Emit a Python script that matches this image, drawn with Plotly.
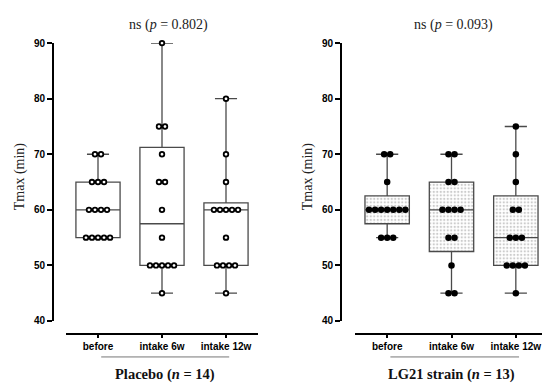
import numpy as np
import plotly.graph_objects as go
from collections import Counter

categories = ["before", "intake 6w", "intake 12w"]
placebo_before = [70, 70, 65, 65, 65, 60, 60, 60, 60, 55, 55, 55, 55, 55]
placebo_6w = [90, 75, 75, 70, 65, 65, 60, 55, 50, 50, 50, 50, 50, 45]
placebo_12w = [80, 70, 65, 60, 60, 60, 60, 60, 55, 50, 50, 50, 50, 45]
lg21_before = [70, 70, 65, 60, 60, 60, 60, 60, 60, 60, 55, 55, 55]
lg21_6w = [70, 70, 65, 65, 60, 60, 60, 60, 55, 55, 50, 45, 45]
lg21_12w = [75, 70, 65, 60, 60, 55, 55, 55, 50, 50, 50, 50, 45]
y_ticks = [40, 50, 60, 70, 80, 90]
titles = ["ns (<i>p</i> = 0.802)", "ns (<i>p</i> = 0.093)"]
group_labels = ["<b>Placebo (<i>n</i> = 14)</b>", "<b>LG21 strain (<i>n</i> = 13)</b>"]

W, H = 550, 387
BOXW = 0.69

def px_x(p):
    return p / W

def px_y(p):
    return (H - p) / H

def stats(groups):
    q1 = [float(np.percentile(g, 25, method="weibull")) for g in groups]
    med = [float(np.percentile(g, 50, method="weibull")) for g in groups]
    q3 = [float(np.percentile(g, 75, method="weibull")) for g in groups]
    lo = [min(g) for g in groups]
    hi = [max(g) for g in groups]
    return q1, med, q3, lo, hi

def swarm(groups, spacing):
    xs, ys = [], []
    for gi, g in enumerate(groups):
        cnt = Counter(g)
        for v, k in cnt.items():
            for i in range(k):
                xs.append(gi + (i - (k - 1) / 2) * spacing)
                ys.append(v)
    return xs, ys

fig = go.Figure()
panels = [
    ([placebo_before, placebo_6w, placebo_12w], "x", "y", False),
    ([lg21_before, lg21_6w, lg21_12w], "x2", "y2", True),
]
for groups, xa, ya, patterned in panels:
    q1, med, q3, lo, hi = stats(groups)
    pos = list(range(len(categories)))
    if patterned:
        fig.add_trace(go.Bar(
            x=pos, y=[b - a for a, b in zip(q1, q3)], base=q1, width=BOXW,
            marker=dict(color="white", line=dict(width=0),
                        pattern=dict(shape=".", size=3.5, solidity=0.35,
                                     fgcolor="#9a9a9a", bgcolor="white")),
            xaxis=xa, yaxis=ya, showlegend=False, hoverinfo="skip"))
    fig.add_trace(go.Box(
        x=pos, q1=q1, median=med, q3=q3, lowerfence=lo, upperfence=hi,
        width=BOXW, whiskerwidth=0.5, boxpoints=False,
        fillcolor="rgba(0,0,0,0)", line=dict(color="#4a4a4a", width=1.3),
        xaxis=xa, yaxis=ya, showlegend=False))
    if patterned:
        xs, ys = swarm(groups, 0.094)
        mk = dict(symbol="circle", size=6.5, color="black", line=dict(width=0))
    else:
        xs, ys = swarm(groups, 0.094)
        mk = dict(symbol="circle", size=4.6, color="white", line=dict(color="black", width=1.8))
    fig.add_trace(go.Scatter(x=xs, y=ys, mode="markers", marker=mk,
                             xaxis=xa, yaxis=ya, showlegend=False, cliponaxis=False))

tickfont = dict(family="Liberation Sans", size=10, color="black", weight="bold")
ydom = [px_y(317), px_y(31)]
common_x = dict(range=[-0.5, 2.5], tickvals=[0, 1, 2], ticktext=categories,
                showline=True, linecolor="black", linewidth=2, ticks="outside",
                ticklen=3, tickwidth=1.5, tickcolor="black", showgrid=False,
                zeroline=False, tickfont=tickfont, anchor="free",
                position=px_y(330))
common_y = dict(range=[40, 90], tickvals=y_ticks, showline=True, linecolor="black",
                linewidth=2, ticks="outside", ticklen=5, tickwidth=1.5,
                tickcolor="black", showgrid=False, zeroline=False,
                tickfont=tickfont, domain=ydom, anchor="free")

fig.update_layout(
    width=W, height=H, margin=dict(l=0, r=0, t=0, b=0),
    paper_bgcolor="white", plot_bgcolor="white",
    xaxis=dict(domain=[px_x(58), px_x(250)], **common_x),
    xaxis2=dict(domain=[px_x(347), px_x(540)], **common_x),
    yaxis=dict(position=px_x(45), **common_y),
    yaxis2=dict(position=px_x(333), **common_y),
    barmode="overlay",
)

serif = "Liberation Serif"
ann = []
for cx, t in zip([160, 445], titles):
    ann.append(dict(x=px_x(cx), y=px_y(12), xref="paper", yref="paper", text=t,
                    showarrow=False, font=dict(family=serif, size=14, color="#222"),
                    xanchor="center", yanchor="middle"))
for cx, t in zip([157, 443], group_labels):
    ann.append(dict(x=px_x(cx), y=px_y(372), xref="paper", yref="paper", text=t,
                    showarrow=False, font=dict(family=serif, size=14.5, color="#111"),
                    xanchor="center", yanchor="middle"))
for cx in [12, 300]:
    ann.append(dict(x=px_x(cx), y=px_y(168), xref="paper", yref="paper",
                    text="Tmax (min)", textangle=-90, showarrow=False,
                    font=dict(family=serif, size=14, color="#222"),
                    xanchor="center", yanchor="middle"))
fig.update_layout(annotations=ann)

for xr in ["x", "x2"]:
    fig.add_shape(type="line", xref=xr, yref="paper", x0=0.05, x1=2.05,
                  y0=px_y(354), y1=px_y(354), line=dict(color="#777", width=1))

fig.write_html("out.html")
